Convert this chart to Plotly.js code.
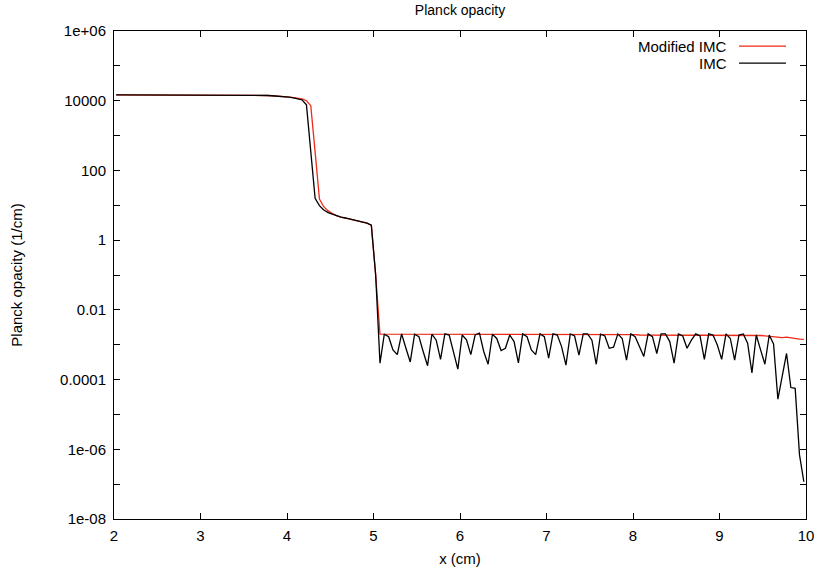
<!DOCTYPE html>
<html>
<head>
<meta charset="utf-8">
<script src="https://cdn.plot.ly/plotly-3.0.1.min.js"></script>
<style>html,body{margin:0;padding:0;background:#fff;}#chart{width:821px;height:573px;}</style>
</head>
<body>
<div id="chart"></div>
<script>
// x positions (cell centres, cm)
const xCm = [
2.025,2.075,2.125,2.175,2.225,2.275,2.325,2.375,2.425,2.475,
2.525,2.575,2.625,2.675,2.725,2.775,2.825,2.875,2.925,2.975,
3.025,3.075,3.125,3.175,3.225,3.275,3.325,3.375,3.425,3.475,
3.525,3.575,3.625,3.675,3.725,3.775,3.825,3.875,3.925,3.975,
4.025,4.075,4.125,4.175,4.225,4.275,4.325,4.375,4.425,4.475,
4.525,4.575,4.625,4.675,4.725,4.775,4.825,4.875,4.925,4.975,
5.025,5.075,5.125,5.175,5.225,5.275,5.325,5.375,5.425,5.475,
5.525,5.575,5.625,5.675,5.725,5.775,5.825,5.875,5.925,5.975,
6.025,6.075,6.125,6.175,6.225,6.275,6.325,6.375,6.425,6.475,
6.525,6.575,6.625,6.675,6.725,6.775,6.825,6.875,6.925,6.975,
7.025,7.075,7.125,7.175,7.225,7.275,7.325,7.375,7.425,7.475,
7.525,7.575,7.625,7.675,7.725,7.775,7.825,7.875,7.925,7.975,
8.025,8.075,8.125,8.175,8.225,8.275,8.325,8.375,8.425,8.475,
8.525,8.575,8.625,8.675,8.725,8.775,8.825,8.875,8.925,8.975,
9.025,9.075,9.125,9.175,9.225,9.275,9.325,9.375,9.425,9.475,
9.525,9.575,9.625,9.675,9.725,9.775,9.825,9.875,9.925,9.975
];

// Modified IMC Planck opacity (1/cm)
const modifiedIMC = [
14800,14800,14800,14800,14800,14800,14800,14800,14800,14800,
14800,14800,14800,14800,14800,14800,14800,14800,14800,14800,
14800,14800,14800,14800,14800,14800,14800,14800,14800,14800,
14700,14600,14500,14400,14300,14100,13900,13700,13400,13100,
12700,12300,11700,11200,10000,7200,340,15.1,9.1,6.9,
5.75,5.0,4.6,4.32,4.07,3.80,3.55,3.31,3.09,2.69,
0.1,2.0e-3,2.0e-3,2.0e-3,2.0e-3,2.0e-3,2.0e-3,2.0e-3,2.0e-3,2.0e-3,
2.0e-3,2.0e-3,2.0e-3,2.0e-3,2.0e-3,2.0e-3,2.0e-3,2.0e-3,2.0e-3,2.0e-3,
2.0e-3,1.98e-3,1.98e-3,1.98e-3,1.98e-3,1.98e-3,1.98e-3,1.98e-3,1.98e-3,1.98e-3,
1.98e-3,1.98e-3,1.98e-3,1.98e-3,1.98e-3,1.98e-3,1.98e-3,1.98e-3,1.98e-3,1.98e-3,
1.98e-3,1.95e-3,1.95e-3,1.95e-3,1.95e-3,1.95e-3,1.95e-3,1.95e-3,1.95e-3,1.95e-3,
1.95e-3,1.95e-3,1.95e-3,1.95e-3,1.95e-3,1.95e-3,1.95e-3,1.95e-3,1.95e-3,1.95e-3,
1.95e-3,1.9e-3,1.9e-3,1.9e-3,1.9e-3,1.9e-3,1.9e-3,1.9e-3,1.9e-3,1.9e-3,
1.9e-3,1.9e-3,1.9e-3,1.9e-3,1.9e-3,1.9e-3,1.9e-3,1.9e-3,1.9e-3,1.9e-3,
1.84e-3,1.84e-3,1.84e-3,1.84e-3,1.84e-3,1.84e-3,1.84e-3,1.84e-3,1.84e-3,1.84e-3,
1.8e-3,1.76e-3,1.72e-3,1.62e-3,1.6e-3,1.66e-3,1.58e-3,1.48e-3,1.45e-3,1.42e-3
];

// IMC Planck opacity (1/cm)
const imc = [
14800,14800,14800,14800,14800,14800,14800,14800,14800,14800,
14800,14800,14800,14800,14800,14800,14800,14800,14800,14800,
14800,14800,14800,14800,14800,14800,14800,14800,14800,14800,
14700,14600,14500,14400,14300,14100,13900,13700,13400,13100,
12600,12100,11500,10500,7600,355,15.8,9.77,7.33,6.17,
5.50,4.90,4.57,4.32,4.07,3.80,3.55,3.31,3.09,2.69,
0.1,2.95e-4,2.0e-3,1.7e-3,7.1e-4,5.2e-4,2.04e-3,7.9e-4,3.2e-4,2.0e-3,
1.7e-3,6.3e-4,2.5e-4,2.0e-3,1.35e-3,3.8e-4,2.04e-3,1.9e-3,6.3e-4,2.0e-4,
1.9e-3,1.38e-3,5.2e-4,1.9e-3,2.14e-3,6.3e-4,2.75e-4,2.0e-3,1.51e-3,6.8e-4,
7.9e-4,1.9e-3,1.23e-3,3.0e-4,2.04e-3,1.7e-3,7.1e-4,5.2e-4,2.04e-3,1.7e-3,
4.1e-4,2.04e-3,1.9e-3,8.7e-4,2.6e-4,2.04e-3,1.78e-3,5.0e-4,2.04e-3,2.04e-3,
1.35e-3,2.75e-4,2.0e-3,1.78e-3,7.9e-4,8.5e-4,2.04e-3,1.51e-3,3.6e-4,2.04e-3,
1.7e-3,8.7e-4,4.6e-4,2.04e-3,1.7e-3,5.6e-4,2.04e-3,2.04e-3,1.23e-3,2.95e-4,
2.04e-3,1.78e-3,7.9e-4,1.35e-3,2.04e-3,1.78e-3,3.8e-4,2.04e-3,1.9e-3,9.8e-4,
3.8e-4,2.04e-3,1.51e-3,3.6e-4,1.9e-3,2.04e-3,1.1e-3,1.55e-4,1.9e-3,7.1e-4,
2.75e-4,1.9e-3,1.05e-3,2.75e-5,1.26e-4,5.6e-4,5.9e-5,5.6e-5,6.9e-7,1.17e-7
];

const xTicks = [2,3,4,5,6,7,8,9,10];
const yTicks = [1e6,1e5,1e4,1e3,1e2,1e1,1,1e-1,1e-2,1e-3,1e-4,1e-5,1e-6,1e-7,1e-8];
const yTickText = ['1e+06','','10000','','100','','1','','0.01','','0.0001','','1e-06','','1e-08'];
const seriesNames = ['Modified IMC','IMC'];
const seriesColors = ['#ee2a16','#000000'];

const FONT = 'Liberation Sans, Arial, Helvetica, sans-serif';

const traces = [
  {x: xCm, y: modifiedIMC, type: 'scatter', mode: 'lines', name: seriesNames[0],
   line: {color: seriesColors[0], width: 1.3}, showlegend: false},
  {x: xCm, y: imc, type: 'scatter', mode: 'lines', name: seriesNames[1],
   line: {color: seriesColors[1], width: 1.3}, showlegend: false}
];

const axisCommon = {
  showline: true, linecolor: '#000', linewidth: 1, mirror: 'ticks',
  ticks: 'inside', ticklen: 6, tickcolor: '#000', tickwidth: 1,
  showgrid: false, zeroline: false,
  tickfont: {family: FONT, size: 15, color: '#000'}
};

const legY1 = 0.969, legY2 = 0.934;

const layout = {
  width: 821, height: 573,
  margin: {l: 114, r: 15, t: 31, b: 54},
  paper_bgcolor: '#fff', plot_bgcolor: '#fff',
  font: {family: FONT, size: 14, color: '#000'},
  title: {text: 'Planck opacity', font: {family: FONT, size: 14, color: '#000'},
          x: 0.5, xref: 'paper', xanchor: 'center', y: 0.983, yref: 'container', yanchor: 'middle'},
  xaxis: Object.assign({}, axisCommon, {
    range: [2, 10], tickmode: 'array', tickvals: xTicks, ticktext: xTicks.map(String),
    ticklabelstandoff: 3,
    title: {text: 'x (cm)', font: {family: FONT, size: 15, color: '#000'}, standoff: 10}
  }),
  yaxis: Object.assign({}, axisCommon, {
    type: 'log', range: [-8, 6], tickmode: 'array', tickvals: yTicks, ticktext: yTickText,
    ticklabelstandoff: 4,
    title: {text: 'Planck opacity (1/cm)', font: {family: FONT, size: 15, color: '#000'}, standoff: 33}
  }),
  annotations: [
    {xref: 'paper', yref: 'paper', x: 0.8887, y: legY1, xanchor: 'right', yanchor: 'middle',
     text: seriesNames[0], showarrow: false, font: {family: FONT, size: 15, color: '#000'}},
    {xref: 'paper', yref: 'paper', x: 0.8887, y: legY2, xanchor: 'right', yanchor: 'middle',
     text: seriesNames[1], showarrow: false, font: {family: FONT, size: 15, color: '#000'}}
  ],
  shapes: [
    {type: 'line', xref: 'paper', yref: 'paper', x0: 0.9032, x1: 0.9711, y0: legY1, y1: legY1,
     line: {color: seriesColors[0], width: 1.3}},
    {type: 'line', xref: 'paper', yref: 'paper', x0: 0.9032, x1: 0.9711, y0: legY2, y1: legY2,
     line: {color: seriesColors[1], width: 1.3}}
  ]
};

Plotly.newPlot('chart', traces, layout, {displayModeBar: false, staticPlot: true});
</script>
</body>
</html>
